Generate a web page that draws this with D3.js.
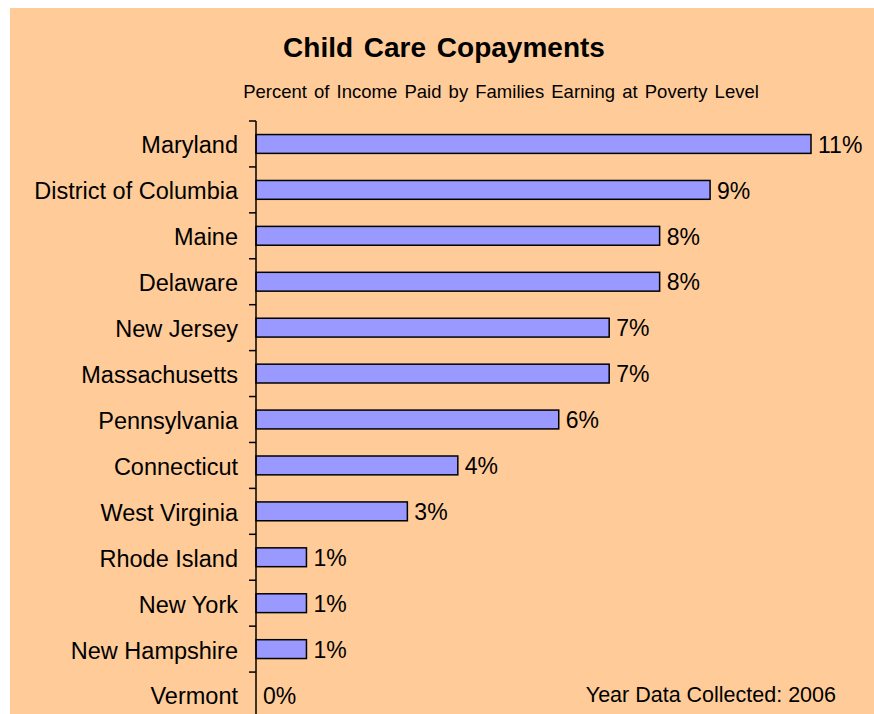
<!DOCTYPE html>
<html>
<head>
<meta charset="utf-8">
<script src="https://cdn.jsdelivr.net/npm/d3@7"></script>
<style>
  html, body { margin: 0; padding: 0; background: #ffffff; }
  svg { display: block; }
  text { font-family: "Liberation Sans", Arial, sans-serif; fill: #000; }
</style>
</head>
<body>
<svg id="chart" width="874" height="714"></svg>
<script>
const categories = ["Maryland", "District of Columbia", "Maine", "Delaware", "New Jersey",
  "Massachusetts", "Pennsylvania", "Connecticut", "West Virginia", "Rhode Island",
  "New York", "New Hampshire", "Vermont"];
const values = [11, 9, 8, 8, 7, 7, 6, 4, 3, 1, 1, 1, 0];
const valueLabels = ["11%", "9%", "8%", "8%", "7%", "7%", "6%", "4%", "3%", "1%", "1%", "1%", "0%"];
const titleText = "Child Care Copayments";
const subtitleText = "Percent of Income Paid by Families Earning at Poverty Level";
const noteText = "Year Data Collected: 2006";

const data = categories.map((c, i) => ({ cat: c, value: values[i], label: valueLabels[i] }));

const svg = d3.select("#chart");

svg.append("rect")
  .attr("x", 10).attr("y", 8)
  .attr("width", 864).attr("height", 706)
  .attr("fill", "#FFCC99");

const x = d3.scaleLinear().domain([0, 11]).range([256, 811]);
const rows = d3.scaleBand().domain(categories).range([121, 718]).padding(0);
const bars = d3.scaleBand().domain(categories).range([121, 718])
  .paddingInner(0.59).paddingOuter(0.295);

// Title & subtitle
svg.append("text")
  .attr("x", 444).attr("y", 57)
  .attr("text-anchor", "middle")
  .style("font-size", "28px").style("font-weight", "bold")
  .style("word-spacing", "3px")
  .text(titleText);

svg.append("text")
  .attr("x", 501).attr("y", 97.5)
  .attr("text-anchor", "middle")
  .style("font-size", "18.5px")
  .style("word-spacing", "2px")
  .text(subtitleText);

// Bars
svg.append("g").selectAll("rect")
  .data(data.filter(d => d.value > 0))
  .join("rect")
  .attr("x", x(0))
  .attr("y", d => bars(d.cat))
  .attr("width", d => x(d.value) - x(0))
  .attr("height", bars.bandwidth())
  .attr("fill", "#9999FF")
  .attr("stroke", "#000")
  .attr("stroke-width", 1.5);

// Axis line and ticks (tick marks between categories)
const axis = svg.append("g");
axis.append("line")
  .attr("x1", x(0)).attr("x2", x(0))
  .attr("y1", rows.range()[0]).attr("y2", rows.range()[1])
  .attr("stroke", "#000").attr("stroke-width", 1.5);
const boundaries = categories.map(c => rows(c)).concat([rows.range()[1]]);
axis.selectAll("line.tick")
  .data(boundaries)
  .join("line")
  .attr("class", "tick")
  .attr("x1", x(0) - 7).attr("x2", x(0))
  .attr("y1", d => d).attr("y2", d => d)
  .attr("stroke", "#000").attr("stroke-width", 1.5);

// Category labels
svg.append("g").selectAll("text")
  .data(data)
  .join("text")
  .attr("x", 238)
  .attr("y", d => rows(d.cat) + rows.bandwidth() / 2)
  .attr("dy", "0.4em")
  .attr("text-anchor", "end")
  .style("font-size", "23.5px")
  .text(d => d.cat);

// Value labels
svg.append("g").selectAll("text")
  .data(data)
  .join("text")
  .attr("x", d => x(d.value) + 7)
  .attr("y", d => rows(d.cat) + rows.bandwidth() / 2)
  .attr("dy", "0.38em")
  .style("font-size", "23px")
  .text(d => d.label);

// Note
svg.append("text")
  .attr("x", 836).attr("y", 702)
  .attr("text-anchor", "end")
  .style("font-size", "21.5px")
  .text(noteText);
</script>
</body>
</html>
